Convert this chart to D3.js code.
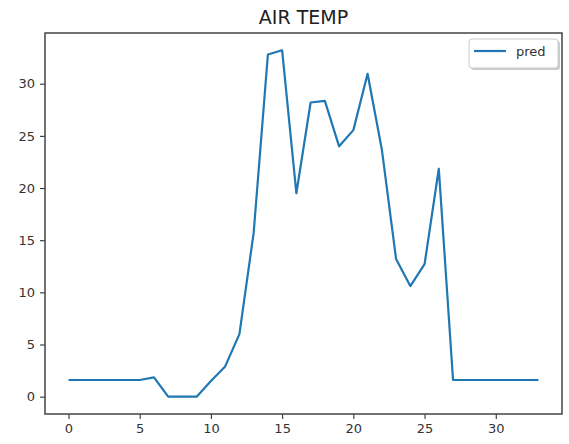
<!DOCTYPE html>
<html><head><meta charset="utf-8">
<script src="https://cdn.jsdelivr.net/npm/d3@7"></script>
<style>body{margin:0;background:#fff}svg{display:block}</style>
</head><body>
<svg id="c" width="569" height="444"></svg>
<script>
const title = "AIR TEMP";
const seriesName = "pred";
const xValues = d3.range(0, 34);
const predValues = [1.6,1.6,1.6,1.6,1.6,1.6,1.85,0,0,0,1.5,2.9,6.0,15.7,32.8,33.2,19.5,28.2,28.35,24.0,25.55,30.95,23.7,13.2,10.6,12.7,21.85,1.6,1.6,1.6,1.6,1.6,1.6,1.6];
const xTicks = [0,5,10,15,20,25,30];
const yTicks = [0,5,10,15,20,25,30];

const svg = d3.select("#c");
const L=45, R=562, T=33, B=414;
const xmin=d3.min(xValues), xmax=d3.max(xValues), ymin=d3.min(predValues), ymax=d3.max(predValues);
const xm=(xmax-xmin)*0.05, ym=(ymax-ymin)*0.05;
const x=d3.scaleLinear().domain([xmin-xm,xmax+xm]).range([L,R]);
const y=d3.scaleLinear().domain([ymin-ym,ymax+ym]).range([B,T]);

const font="DejaVu Sans, sans-serif";
const gx=svg.append("g").attr("transform",`translate(0,${B})`)
  .call(d3.axisBottom(x).tickValues(xTicks).tickSize(5).tickPadding(5).tickFormat(d3.format("d")));
const gy=svg.append("g").attr("transform",`translate(${L},0)`)
  .call(d3.axisLeft(y).tickValues(yTicks).tickSize(5).tickPadding(5).tickFormat(d3.format("d")));
[gx,gy].forEach(g=>{
  g.select(".domain").remove();
  g.selectAll("line").attr("stroke","#333").attr("stroke-width",1.1);
  g.selectAll("text").attr("font-family",font).attr("font-size",13).attr("fill","#333");
});

svg.append("path").datum(xValues.map((d,i)=>[d,predValues[i]]))
  .attr("fill","none").attr("stroke","#1f77b4").attr("stroke-width",2.2)
  .attr("stroke-linejoin","round")
  .attr("d",d3.line().x(d=>x(d[0])).y(d=>y(d[1])));

svg.append("rect").attr("x",L).attr("y",T).attr("width",R-L).attr("height",B-T)
  .attr("fill","none").attr("stroke","#444").attr("stroke-width",1.5);

svg.append("text").attr("x",(L+R)/2).attr("y",24).attr("text-anchor","middle")
  .attr("font-family",font).attr("font-size",19).attr("fill","#222").text(title);

// legend
const lg=svg.append("g");
lg.append("rect").attr("x",471).attr("y",41).attr("width",89).attr("height",29).attr("rx",3)
  .attr("fill","#999").attr("opacity",0.5);
lg.append("rect").attr("x",469).attr("y",39).attr("width",89).attr("height",29).attr("rx",3)
  .attr("fill","#fff").attr("stroke","#ccc").attr("stroke-width",1);
lg.append("line").attr("x1",474).attr("x2",506).attr("y1",51).attr("y2",51)
  .attr("stroke","#1f77b4").attr("stroke-width",2.2);
lg.append("text").attr("x",516).attr("y",56).attr("font-family",font).attr("font-size",13)
  .attr("fill","#333").text(seriesName);
</script>
</body></html>
